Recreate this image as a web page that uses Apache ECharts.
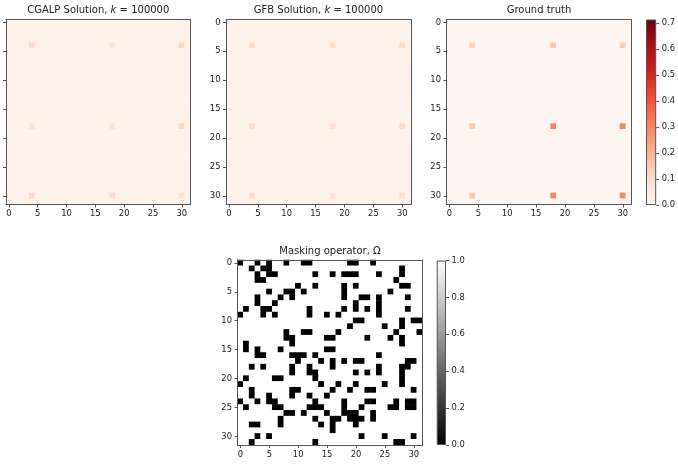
<!DOCTYPE html>
<html><head><meta charset="utf-8">
<script src="https://cdn.jsdelivr.net/npm/echarts@6/dist/echarts.min.js"></script>
<style>html,body{margin:0;padding:0;background:#fff}#c{width:678px;height:470px}</style>
</head><body><div id="c"></div>
<script>
// ---------------- data ----------------
const N = 32;
const cells = Array.from({length: N}, (_, i) => String(i));
const axisTickLabels = [0, 5, 10, 15, 20, 25, 30];
const titles = ['CGALP Solution, ', 'GFB Solution, ', 'Ground truth', 'Masking operator, '];
const spikeRows = [4, 18, 30];
const spikeCols = [4, 18, 30];
const cgalpBackground = 0.014;
const cgalpSpikes = [[0.11, 0.08, 0.11], [0.09, 0.09, 0.11], [0.11, 0.10, 0.09]];
const gfbBackground = 0.014;
const gfbSpikes = [[0.10, 0.10, 0.10], [0.10, 0.09, 0.10], [0.10, 0.09, 0.09]];
const truthBackground = 0.0;
const truthSpikes = [[0.13, 0.15, 0.14], [0.15, 0.30, 0.30], [0.15, 0.30, 0.30]];
// columns that are 0 (black) in each row of the mask; all others are 1
const maskZeroCols = [
 [0,3,5,8,11,12,19,20,23],
 [2,4,5,28],
 [3,5,6,13,16,18,19,20,24,28],
 [3,4,27],
 [10,13,18,20,28,29],
 [5,8,9,11,18,26],
 [3,7,9,18,21,22,24,29],
 [3,6,20,24],
 [1,4,5,12,18,20,22,24,29],
 [0,4,6,12,15,17,24],
 [20,21,28,30,31],
 [19,25,28],
 [8,11,12,17,27,31],
 [8,9,15,16,22,26,28],
 [1,9,28],
 [1,3,7,15,16],
 [3,4,9,10,11,13,24],
 [10,14,16,18,20,21,29,30],
 [2,4,9,12,16,24,28,29],
 [9,12,13,20,22,24,28],
 [1,6,7,13,28],
 [0,14,17,20,25,28],
 [2,9,10,16,19,22,23,30],
 [2,5,9,12,15],
 [0,3,5,6,13,18,22,23,27,29,30],
 [1,6,7,12,13,14,18,21,26,27,29,30],
 [8,9,11,15,18,19,20,23],
 [7,13,16,17,19,20,21,23],
 [2,3,7,14,16,20],
 [16],
 [3,5,21,25,30],
 [2,13,27,28]
];
const redsMax = 0.714;
const redsTicks = [0, 0.1, 0.2, 0.3, 0.4, 0.5, 0.6, 0.7];
const grayTicks = [0, 0.2, 0.4, 0.6, 0.8, 1.0];
const REDS = ['#fff5f0','#fee0d2','#fcbba1','#fc9272','#fb6a4a','#ef3b2c','#cb181d','#a50f15','#67000d'];
const GRAYS = ['#000000', '#ffffff'];

// ---------------- build ----------------
function buildSpiky(bg, spikes) {
  const out = [];
  for (let r = 0; r < N; r++) for (let c = 0; c < N; c++) {
    let v = bg;
    const ri = spikeRows.indexOf(r), ci = spikeCols.indexOf(c);
    if (ri >= 0 && ci >= 0) v = spikes[ri][ci];
    out.push([c, r, v]);
  }
  return out;
}
function buildMask() {
  const out = [];
  for (let r = 0; r < N; r++) for (let c = 0; c < N; c++)
    out.push([c, r, maskZeroCols[r].includes(c) ? 0 : 1]);
  return out;
}

const FONT = 'DejaVu Sans';
const TXT = '#222';
const SPINE = '#555';
const FS = 8.4;
const grids = [
  {left: 6, top: 19.5, width: 184.5, height: 185},
  {left: 226, top: 19.5, width: 185, height: 185},
  {left: 446.5, top: 19.5, width: 185, height: 185},
  {left: 237.5, top: 260, width: 185, height: 185},
  {left: 646, top: 19.5, width: 12.3, height: 185.5},
  {left: 436.7, top: 260.5, width: 9.3, height: 184.5}
];
const tickInt = (i) => axisTickLabels.includes(i);
const xAxes = [], yAxes = [];
function addImageAxes(gi, showY) {
  const line = {show: true, lineStyle: {color: SPINE, width: 1}};
  const tick = {show: true, alignWithLabel: true, interval: tickInt, length: 3, lineStyle: {color: SPINE, width: 1}};
  const lab = {interval: tickInt, fontSize: FS, color: TXT, fontFamily: FONT, margin: 5.5};
  xAxes.push({type: 'category', gridIndex: gi, data: cells, position: 'bottom', z: 10,
    axisLine: line, axisTick: tick, axisLabel: lab, splitLine: {show: false}});
  xAxes.push({type: 'category', gridIndex: gi, data: cells, position: 'top', z: 10,
    axisLine: line, axisTick: {show: false}, axisLabel: {show: false}, splitLine: {show: false}});
  yAxes.push({type: 'category', gridIndex: gi, data: cells, position: 'left', inverse: true, z: 10,
    axisLine: line, axisTick: tick, axisLabel: Object.assign({}, lab, {show: showY}), splitLine: {show: false}});
  yAxes.push({type: 'category', gridIndex: gi, data: cells, position: 'right', inverse: true, z: 10,
    axisLine: line, axisTick: {show: false}, axisLabel: {show: false}, splitLine: {show: false}});
}
addImageAxes(0, false);
addImageAxes(1, true);
addImageAxes(2, true);
addImageAxes(3, true);
function addColorbarAxes(gi, max, ticks) {
  xAxes.push({type: 'category', gridIndex: gi, data: ['cb'], show: false});
  yAxes.push({type: 'value', gridIndex: gi, min: 0, max: max, position: 'right', z: 10,
    axisLine: {show: false}, splitLine: {show: false},
    axisTick: {show: true, length: 3, customValues: ticks, lineStyle: {color: SPINE, width: 1}},
    axisLabel: {customValues: ticks, formatter: (v) => v.toFixed(1), fontSize: FS, color: TXT, fontFamily: FONT, margin: 5.5}});
}
addColorbarAxes(4, redsMax, redsTicks);
addColorbarAxes(5, 1, grayTicks);

function heat(xi, yi, data) {
  return {type: 'heatmap', xAxisIndex: xi, yAxisIndex: yi, data: data,
    emphasis: {disabled: true}, itemStyle: {borderWidth: 0}, silent: true, progressive: 0};
}
function gradStops(cols) {
  return cols.map((c, i) => ({offset: i / (cols.length - 1), color: c}));
}
const series = [
  heat(0, 0, buildSpiky(cgalpBackground, cgalpSpikes)),
  heat(2, 2, buildSpiky(gfbBackground, gfbSpikes)),
  heat(4, 4, buildSpiky(truthBackground, truthSpikes)),
  heat(6, 6, buildMask()),
  {type: 'bar', xAxisIndex: 8, yAxisIndex: 8, data: [redsMax], barWidth: '100%', silent: true,
    itemStyle: {color: new echarts.graphic.LinearGradient(0, 1, 0, 0, gradStops(REDS)), borderColor: SPINE, borderWidth: 1}},
  {type: 'bar', xAxisIndex: 9, yAxisIndex: 9, data: [1], barWidth: '100%', silent: true,
    itemStyle: {color: new echarts.graphic.LinearGradient(0, 1, 0, 0, gradStops(GRAYS)), borderColor: SPINE, borderWidth: 1}}
];

const richT = {a: {fontSize: 10, fontFamily: FONT, color: TXT}, i: {fontSize: 10, fontFamily: FONT, fontStyle: 'italic', color: TXT}};
function titleText(x, y, text) {
  return {type: 'text', x: x, y: y, silent: true, z: 20,
    style: {text: text, rich: richT, align: 'center', verticalAlign: 'middle', font: '10px "DejaVu Sans"', fill: TXT}};
}
const graphics = [
  titleText(98.25, 10.5, '{a|' + titles[0] + '}{i|k}{a| = 100000}'),
  titleText(318.5, 10.5, '{a|' + titles[1] + '}{i|k}{a| = 100000}'),
  titleText(539, 10.5, '{a|' + titles[2] + '}'),
  titleText(330, 251.5, '{a|' + titles[3] + 'Ω}')
];

const chart = echarts.init(document.getElementById('c'), null, {renderer: 'canvas'});
chart.setOption({
  animation: false,
  backgroundColor: '#fff',
  grid: grids.map(g => Object.assign({containLabel: false}, g)),
  xAxis: xAxes,
  yAxis: yAxes,
  visualMap: [
    {type: 'continuous', show: false, min: 0, max: redsMax, seriesIndex: [0, 1, 2], dimension: 2, inRange: {color: REDS}},
    {type: 'continuous', show: false, min: 0, max: 1, seriesIndex: [3], dimension: 2, inRange: {color: GRAYS}}
  ],
  series: series,
  graphic: graphics
});
</script></body></html>
